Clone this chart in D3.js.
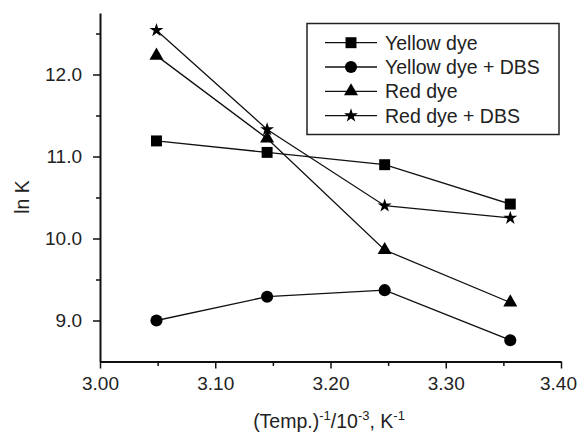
<!DOCTYPE html>
<html>
<head>
<meta charset="utf-8">
<script src="https://cdn.jsdelivr.net/npm/d3@7"></script>
<style>
  body { margin: 0; background: #fff; }
  svg { display: block; font-family: "Liberation Sans", Arial, sans-serif; }
</style>
</head>
<body>
<div id="chart"></div>
<script>
// 1/T in 10^-3 K^-1 (T = 328, 318, 308, 298 K)
var invTemp = [3.049, 3.145, 3.247, 3.356];

var seriesNames = ["Yellow dye", "Yellow dye + DBS", "Red dye", "Red dye + DBS"];
var yellowDye = [11.19, 11.05, 10.90, 10.42];
var yellowDyeDBS = [9.00, 9.29, 9.37, 8.76];
var redDye = [12.23, 11.22, 9.86, 9.22];
var redDyeDBS = [12.54, 11.33, 10.40, 10.25];

var xTicks = [3.0, 3.1, 3.2, 3.3, 3.4];
var yTicks = [9.0, 10.0, 11.0, 12.0];

var series = [
  { name: seriesNames[0], values: yellowDye, symbol: d3.symbolSquare, size: 120 },
  { name: seriesNames[1], values: yellowDyeDBS, symbol: d3.symbolCircle, size: 115 },
  { name: seriesNames[2], values: redDye, symbol: d3.symbolTriangle, size: 85 },
  { name: seriesNames[3], values: redDyeDBS, symbol: d3.symbolStar, size: 60 }
];

var width = 579, height = 434;
var svg = d3.select("#chart").append("svg")
  .attr("width", width)
  .attr("height", height);

var x = d3.scaleLinear().domain([3.0, 3.4]).range([100, 561]);
var y = d3.scaleLinear().domain([8.5, 12.75]).range([361.5, 13]);

// minor ticks
svg.append("g")
  .attr("transform", "translate(0,361.5)")
  .call(d3.axisBottom(x).tickValues([3.05, 3.15, 3.25, 3.35]).tickSize(4.5).tickFormat(""))
  .call(g => g.select(".domain").remove())
  .selectAll("line").attr("stroke", "#111").attr("stroke-width", 1.5);
svg.append("g")
  .attr("transform", "translate(100,0)")
  .call(d3.axisLeft(y).tickValues([9.5, 10.5, 11.5, 12.5]).tickSize(4).tickFormat(""))
  .call(g => g.select(".domain").remove())
  .selectAll("line").attr("stroke", "#111").attr("stroke-width", 1.5);

var xAxis = svg.append("g")
  .attr("transform", "translate(0,361.5)")
  .call(d3.axisBottom(x).tickValues(xTicks).tickSize(7).tickSizeOuter(0).tickPadding(8).tickFormat(d3.format(".2f")));
var yAxis = svg.append("g")
  .attr("transform", "translate(100,0)")
  .call(d3.axisLeft(y).tickValues(yTicks).tickSize(7).tickSizeOuter(0).tickPadding(11).tickFormat(d3.format(".1f")));

[xAxis, yAxis].forEach(function (g) {
  g.select(".domain").attr("stroke", "#111").attr("stroke-width", 2);
  g.selectAll(".tick line").attr("stroke", "#111").attr("stroke-width", 1.5);
  g.selectAll(".tick text").attr("font-size", 19).attr("fill", "#222")
    .attr("font-family", "Liberation Sans, Arial, sans-serif");
});
// keep the last x label inside the window
xAxis.selectAll(".tick text").filter(function (d) { return d === 3.4; }).attr("dx", -3);

// axis titles
var xl = svg.append("text")
  .attr("x", 329).attr("y", 428)
  .attr("text-anchor", "middle")
  .attr("font-size", 19.5)
  .attr("fill", "#222");
xl.append("tspan").text("(Temp.)");
xl.append("tspan").attr("dy", -8).attr("font-size", 13).text("-1");
xl.append("tspan").attr("dy", 8).text("/10");
xl.append("tspan").attr("dy", -8).attr("font-size", 13).text("-3");
xl.append("tspan").attr("dy", 8).text(", K");
xl.append("tspan").attr("dy", -8).attr("font-size", 13).text("-1");

svg.append("text")
  .attr("transform", "translate(29,197) rotate(-90)")
  .attr("text-anchor", "middle")
  .attr("font-size", 19.5)
  .attr("fill", "#222")
  .text("ln K");

// lines and markers
var line = d3.line()
  .x(function (d, i) { return x(invTemp[i]); })
  .y(function (d) { return y(d); });

series.forEach(function (s) {
  svg.append("path")
    .attr("d", line(s.values))
    .attr("fill", "none")
    .attr("stroke", "#111")
    .attr("stroke-width", 1.3);
  svg.append("g").selectAll("path")
    .data(s.values)
    .enter()
    .append("path")
    .attr("d", d3.symbol().type(s.symbol).size(s.size))
    .attr("transform", function (d, i) { return "translate(" + x(invTemp[i]) + "," + y(d) + ")"; })
    .attr("fill", "#000");
});

// legend
var legend = svg.append("g");
legend.append("rect")
  .attr("x", 307).attr("y", 23.5)
  .attr("width", 252).attr("height", 111)
  .attr("fill", "#fff")
  .attr("stroke", "#222")
  .attr("stroke-width", 1.5);

var item = legend.selectAll(".item")
  .data(series)
  .enter()
  .append("g")
  .attr("transform", function (d, i) { return "translate(0," + (42.7 + i * 24.3) + ")"; });
item.append("line")
  .attr("x1", 325).attr("x2", 377)
  .attr("stroke", "#111").attr("stroke-width", 1.3);
item.append("path")
  .attr("d", function (d) { return d3.symbol().type(d.symbol).size(d.size)(); })
  .attr("transform", "translate(351,0)")
  .attr("fill", "#000");
item.append("text")
  .attr("x", 385).attr("y", 7)
  .attr("font-size", 19.5)
  .attr("fill", "#222")
  .text(function (d) { return d.name; });
</script>
</body>
</html>
